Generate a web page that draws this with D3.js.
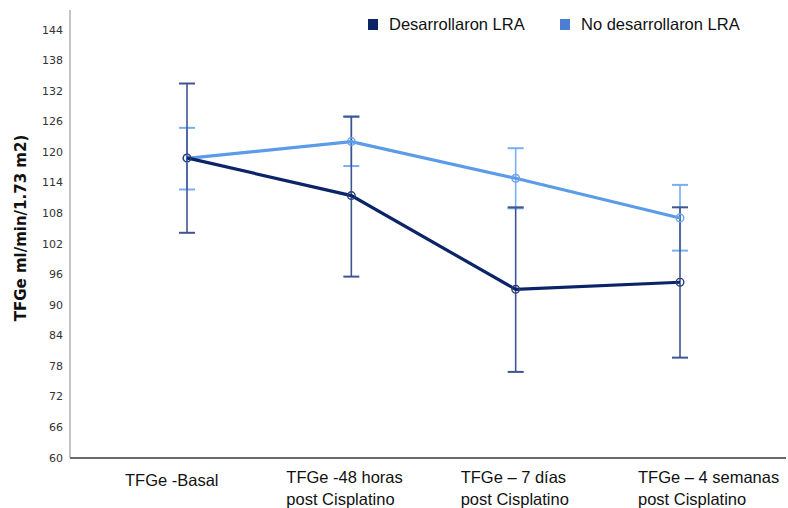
<!DOCTYPE html>
<meta charset="utf-8">
<style>
body { margin: 0; background: #fff; }
svg { display: block; }
.tick-label { font: 11px "DejaVu Sans", sans-serif; fill: #333; }
.cat-label { font: 16.5px "Liberation Sans", Arial, sans-serif; fill: #111; }
.legend text { font: 16.5px "Liberation Sans", Arial, sans-serif; fill: #111; }
.y-title { font: bold 15px "DejaVu Sans", sans-serif; fill: #111; }
</style>
<body>
<script src="https://d3js.org/d3.v7.min.js"></script>
<script>

// data
var categories = ["basal", "48h", "7d", "4sem"];
var categoryLines = [
  ["TFGe -Basal"],
  ["TFGe -48 horas", "post Cisplatino"],
  ["TFGe \u2013 7 d\u00edas", "post Cisplatino"],
  ["TFGe \u2013 4 semanas", "post Cisplatino"]
];
var seriesNames = ["Desarrollaron LRA", "No desarrollaron LRA"];
var lraMean  = [118.8, 111.4, 93.0, 94.4];
var lraLow   = [104.1, 95.5, 76.8, 79.6];
var lraHigh  = [133.4, 126.9, 109.1, 109.1];
var noLraMean = [118.7, 122.0, 114.8, 107.0];
var noLraLow  = [112.6, 117.2, 108.9, 100.6];
var noLraHigh = [124.7, 126.9, 120.7, 113.5];
var yTicks = [60, 66, 72, 78, 84, 90, 96, 102, 108, 114, 120, 126, 132, 138, 144];

var W = 788, H = 508;
var axisX = 70, axisY = 458;

// label nudges relative to each category point (left edge of text block)
var labelOffset = [-62, -65, -55, -42];

var svg = d3.select("body").append("svg")
  .attr("width", W)
  .attr("height", H);

var x = d3.scalePoint()
  .domain(categories)
  .range([187, 680]);

var y = d3.scaleLinear()
  .domain([60, 144])
  .range([457.5, 29.5]);

// axes lines
svg.append("line")
  .attr("x1", axisX).attr("x2", axisX)
  .attr("y1", 10).attr("y2", axisY)
  .attr("stroke", "#b0b0b0").attr("stroke-width", 1.5);

svg.append("line")
  .attr("x1", axisX).attr("x2", 786)
  .attr("y1", axisY).attr("y2", axisY)
  .attr("stroke", "#6a6a6a").attr("stroke-width", 2);

// y tick labels (no tick marks in the original)
var yAxis = d3.axisLeft(y).tickValues(yTicks).tickSize(0).tickPadding(7);
var gy = svg.append("g")
  .attr("transform", "translate(" + axisX + ",0)")
  .call(yAxis);
gy.select(".domain").remove();
gy.selectAll("text").attr("class", "tick-label").attr("font-family", null).attr("font-size", null).attr("fill", null);

// category labels
svg.selectAll(".cat")
  .data(categories)
  .enter().append("text")
  .attr("class", "cat-label")
  .attr("x", function(d, i) { return x(d) + labelOffset[i]; })
  .attr("y", function(d, i) { return categoryLines[i].length > 1 ? 483 : 486; })
  .each(function(d, i) {
    var t = d3.select(this), x0 = t.attr("x");
    categoryLines[i].forEach(function(line, j) {
      t.append("tspan").attr("x", x0).attr("dy", j === 0 ? 0 : 22).text(line);
    });
  });

// y title
svg.append("text")
  .attr("class", "y-title")
  .attr("text-anchor", "middle")
  .attr("transform", "translate(26,228) rotate(-90)")
  .text("TFGe ml/min/1.73 m2)");

var series = [
  {mean: lraMean, low: lraLow, high: lraHigh, line: "#0b2468", err: "#3e5592", marker: "#2b3f7a"},
  {mean: noLraMean, low: noLraLow, high: noLraHigh, line: "#5b9be8", err: "#79aef0", marker: "#6aa4ec"}
];

var cap = 8;

// error bars first (light one under dark)
[series[1], series[0]].forEach(function(s) {
  var g = svg.append("g");
  g.selectAll(".bar").data(categories).enter().append("line")
    .attr("x1", function(d) { return x(d); })
    .attr("x2", function(d) { return x(d); })
    .attr("y1", function(d, i) { return y(s.low[i]); })
    .attr("y2", function(d, i) { return y(s.high[i]); })
    .attr("stroke", s.err).attr("stroke-width", 1.6);
  ["low", "high"].forEach(function(k) {
    g.selectAll(".cap-" + k).data(categories).enter().append("line")
      .attr("x1", function(d) { return x(d) - cap; })
      .attr("x2", function(d) { return x(d) + cap; })
      .attr("y1", function(d, i) { return y(s[k][i]); })
      .attr("y2", function(d, i) { return y(s[k][i]); })
      .attr("stroke", s.err).attr("stroke-width", 2);
  });
});

var line = d3.line()
  .x(function(d) { return x(d.c); })
  .y(function(d) { return y(d.v); });

[series[1], series[0]].forEach(function(s) {
  var pts = categories.map(function(c, i) { return {c: c, v: s.mean[i]}; });
  svg.append("path")
    .datum(pts)
    .attr("d", line)
    .attr("fill", "none")
    .attr("stroke", s.line)
    .attr("stroke-width", 3.2);
  svg.selectAll(null).data(pts).enter().append("circle")
    .attr("cx", function(d) { return x(d.c); })
    .attr("cy", function(d) { return y(d.v); })
    .attr("r", 3.8)
    .attr("fill", "none")
    .attr("stroke", s.marker)
    .attr("stroke-width", 1.4);
});

// legend
var legendColors = ["#0b2565", "#4a7fd4"];
var legendX = [368, 560];
var legend = svg.append("g").attr("class", "legend");
seriesNames.forEach(function(name, i) {
  legend.append("rect")
    .attr("x", legendX[i]).attr("y", 19)
    .attr("width", 10).attr("height", 11)
    .attr("fill", legendColors[i]);
  legend.append("text")
    .attr("x", legendX[i] + 21).attr("y", 30)
    .text(name);
});

</script>
</body>
